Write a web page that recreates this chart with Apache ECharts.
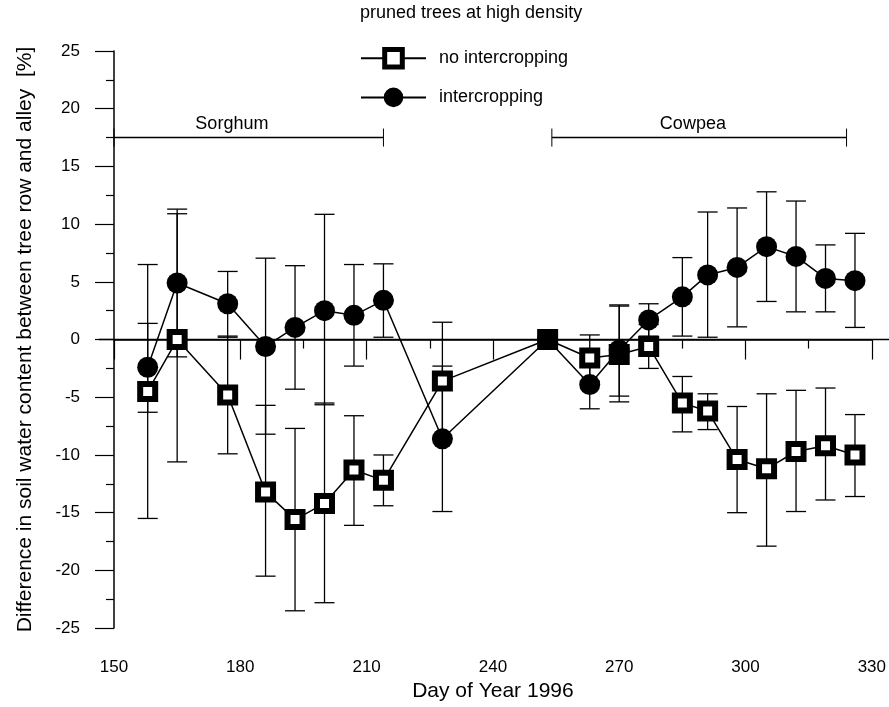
<!DOCTYPE html>
<html>
<head>
<meta charset="utf-8">
<script src="https://cdn.jsdelivr.net/npm/echarts@6/dist/echarts.min.js"></script>
<style>
  html, body { margin: 0; padding: 0; background: #fff; }
  #chart { width: 889px; height: 707px; }
</style>
</head>
<body>
<div id="chart"></div>
<script>
// day of year for each sampling
const days = [158, 165, 177, 186, 193, 200, 207, 214, 228, 253, 263, 270, 277, 285, 291, 298, 305, 312, 319, 326];

// no intercropping (open squares)
const noInter     = [-4.5, 0.0, -4.8, -13.2, -15.6, -14.2, -11.3, -12.2, -3.6, 0.0, -1.6, -1.3, -0.6, -5.5, -6.2, -10.4, -11.2, -9.7, -9.2, -10.0];
const noInterHigh = [6.5, 11.3, 0.3, -5.7, -7.7, -5.5, -6.6, -10.0, 1.5, null, 0.4, 2.9, 1.3, -3.2, -4.7, -5.8, -4.7, -4.4, -4.2, -6.5];
const noInterLow  = [-15.5, -10.6, -9.9, -20.5, -23.5, -22.8, -16.1, -14.4, -8.6, null, -3.6, -5.4, -2.5, -8.0, -7.8, -15.0, -17.9, -14.9, -13.9, -13.6];

// intercropping (filled circles)
const inter     = [-2.4, 4.9, 3.1, -0.6, 1.05, 2.5, 2.1, 3.4, -8.6, 0.0, -3.9, -0.9, 1.7, 3.7, 5.6, 6.25, 8.05, 7.2, 5.3, 5.1];
const interHigh = [1.4, 10.9, 5.9, 7.05, 6.4, 10.85, 6.5, 6.56, -2.3, null, -1.7, 3.0, 3.1, 7.1, 11.05, 11.4, 12.8, 12.0, 8.2, 9.2];
const interLow  = [-6.3, -1.5, 0.2, -8.2, -4.3, -5.65, -2.3, 0.2, -14.9, null, -6.0, -4.9, 0.3, 0.3, 0.2, 1.1, 3.3, 2.4, 2.4, 1.05];

// crop periods drawn above the data
const cropNames = ['Sorghum', 'Cowpea'];
const cropStart = [150, 254];
const cropEnd = [214, 324];
const cropLabelDay = [178, 287.5];
const cropLevel = 17.5;

const font = 'Liberation Sans, Arial, Helvetica, sans-serif';

const chart = echarts.init(document.getElementById('chart'));

function zip(a, b) {
  return a.map((v, i) => [v, b[i]]);
}

function errorData(lo, hi) {
  return days.map((d, i) => [d, lo[i], hi[i]]);
}

function errorBar(params, api) {
  const lo = api.value(1);
  const hi = api.value(2);
  if (isNaN(lo) || isNaN(hi)) return null;
  const top = api.coord([api.value(0), hi]);
  const bot = api.coord([api.value(0), lo]);
  const w = 10;
  const style = { stroke: '#000', lineWidth: 1.3 };
  return {
    type: 'group',
    children: [
      { type: 'line', shape: { x1: top[0], y1: top[1], x2: bot[0], y2: bot[1] }, style: style },
      { type: 'line', shape: { x1: top[0] - w, y1: top[1], x2: top[0] + w, y2: top[1] }, style: style },
      { type: 'line', shape: { x1: bot[0] - w, y1: bot[1], x2: bot[0] + w, y2: bot[1] }, style: style }
    ]
  };
}

function cropBar(params, api) {
  const a = api.coord([api.value(0), cropLevel]);
  const b = api.coord([api.value(1), cropLevel]);
  const c = api.coord([api.value(2), cropLevel]);
  const style = { stroke: '#000', lineWidth: 1.5 };
  return {
    type: 'group',
    children: [
      { type: 'line', shape: { x1: a[0], y1: a[1], x2: b[0], y2: b[1] }, style: style },
      { type: 'line', shape: { x1: a[0], y1: a[1] - 9, x2: a[0], y2: a[1] + 9 }, style: { stroke: '#000', lineWidth: 1 } },
      { type: 'line', shape: { x1: b[0], y1: b[1] - 9, x2: b[0], y2: b[1] + 9 }, style: { stroke: '#000', lineWidth: 1 } },
      {
        type: 'text',
        x: c[0], y: c[1] - 5,
        style: {
          text: cropNames[params.dataIndex],
          fill: '#000', font: '18px ' + font,
          align: 'center', verticalAlign: 'bottom'
        }
      }
    ]
  };
}

// the zero line runs a little past the plot on both sides
function zeroLine(params, api) {
  const p = api.coord([150, 0]);
  return {
    type: 'line',
    shape: { x1: p[0] - 15, y1: p[1], x2: api.getWidth(), y2: p[1] },
    style: { stroke: '#000', lineWidth: 1.5 }
  };
}

const option = {
  animation: false,
  backgroundColor: '#fff',
  title: {
    text: 'pruned trees at high density',
    left: 360, top: 4, padding: 0,
    textStyle: { fontFamily: font, fontSize: 18, fontWeight: 'normal', color: '#000' }
  },
  legend: {
    orient: 'vertical',
    left: 360, top: 47, padding: 0,
    itemWidth: 65, itemHeight: 22, itemGap: 18,
    data: [
      { name: 'no intercropping', itemStyle: { borderWidth: 5 } },
      { name: 'intercropping', itemStyle: { borderWidth: 2 } }
    ],
    textStyle: { fontFamily: font, fontSize: 18, color: '#000', padding: [0, 0, 0, 8] }
  },
  grid: { left: 114, right: 10, top: 51, bottom: 73 },
  xAxis: [
    {
      type: 'value', min: 150, max: 330, interval: 30,
      name: 'Day of Year 1996', nameLocation: 'middle', nameGap: 52,
      nameTextStyle: { fontFamily: font, fontSize: 21, color: '#000' },
      axisLine: { show: false, onZero: false },
      axisTick: { show: false },
      axisLabel: { fontFamily: font, fontSize: 17, color: '#000', margin: 31 },
      splitLine: { show: false }
    },
    {
      type: 'value', min: 150, max: 330, interval: 30,
      position: 'top',
      axisLine: { onZero: true, lineStyle: { color: '#000', width: 1.5 } },
      axisTick: { inside: true, length: 20, lineStyle: { color: '#000', width: 1.2 } },
      minorTick: { show: true, splitNumber: 2, length: 9, lineStyle: { color: '#000', width: 1.2 } },
      axisLabel: { show: false },
      splitLine: { show: false }
    }
  ],
  yAxis: {
    type: 'value', min: -25, max: 25, interval: 5,
    name: 'Difference in soil water content between tree row and alley  [%]',
    nameLocation: 'middle', nameGap: 78,
    nameTextStyle: { fontFamily: font, fontSize: 21, color: '#000' },
    axisLine: { show: true, onZero: false, lineStyle: { color: '#000', width: 1.5 } },
    axisTick: { length: 19, lineStyle: { color: '#000', width: 1.2 } },
    minorTick: { show: true, splitNumber: 2, length: 8, lineStyle: { color: '#000', width: 1.2 } },
    axisLabel: { fontFamily: font, fontSize: 17, color: '#000', margin: 34 },
    splitLine: { show: false }
  },
  series: [
    {
      type: 'custom', name: 'zero', xAxisIndex: 0,
      renderItem: zeroLine,
      encode: { x: 0, y: 1 },
      data: [[150, 0]],
      clip: false, z: 1, silent: true
    },
    {
      type: 'custom', name: 'crops', xAxisIndex: 0,
      renderItem: cropBar,
      encode: { x: [0, 1, 2], y: 3 },
      data: cropNames.map((n, i) => [cropStart[i], cropEnd[i], cropLabelDay[i], cropLevel]),
      z: 1, silent: true
    },
    {
      type: 'custom', name: 'err no', xAxisIndex: 0,
      renderItem: errorBar,
      encode: { x: 0, y: [1, 2] },
      data: errorData(noInterLow, noInterHigh),
      z: 2, silent: true
    },
    {
      type: 'custom', name: 'err inter', xAxisIndex: 0,
      renderItem: errorBar,
      encode: { x: 0, y: [1, 2] },
      data: errorData(interLow, interHigh),
      z: 2, silent: true
    },
    {
      type: 'line', name: 'no intercropping', xAxisIndex: 0,
      data: zip(days, noInter),
      symbol: 'rect', symbolSize: 15,
      lineStyle: { color: '#000', width: 1.5 },
      itemStyle: { color: '#fff', borderColor: '#000', borderWidth: 6 },
      z: 3
    },
    {
      type: 'line', name: 'intercropping', xAxisIndex: 0,
      data: zip(days, inter),
      symbol: 'circle', symbolSize: 21,
      lineStyle: { color: '#000', width: 1.5 },
      itemStyle: { color: '#000', borderColor: '#000', borderWidth: 0 },
      z: 4
    }
  ]
};

chart.setOption(option);
</script>
</body>
</html>
